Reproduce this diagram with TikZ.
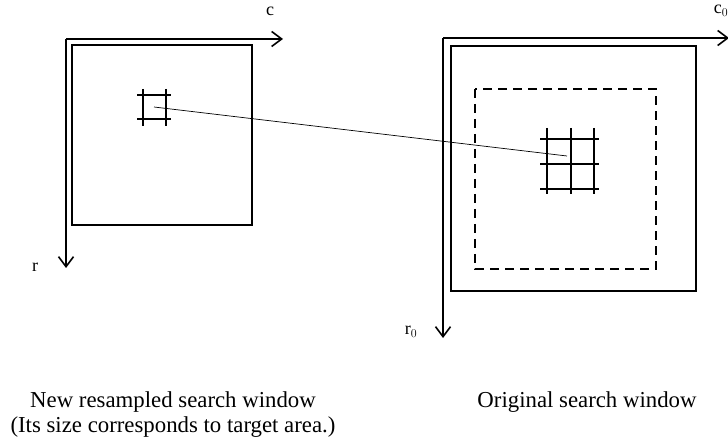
\documentclass[tikz,border=0pt]{standalone}
\usepackage{fontspec}
\setmainfont{Liberation Serif}
\usetikzlibrary{arrows.meta}
\tikzstyle{axis} = [line width=1.6pt, -{Straight Barb[length=10pt,width=15pt,line width=1.6pt]}]
\tikzstyle{window} = [line width=1.6pt]
\tikzstyle{target} = [line width=1.6pt, dash pattern=on 9pt off 6pt]
\tikzstyle{gridline} = [line width=1.6pt]
\tikzstyle{link} = [line width=0.7pt]
\tikzstyle{axlabel} = [font=\fontsize{18}{20}\selectfont, inner sep=0pt]
\tikzstyle{caption} = [font=\fontsize{22.8}{25}\selectfont, align=center, inner sep=0pt, anchor=base]

\begin{document}
\begin{tikzpicture}[x=1pt, y=-1pt]
\useasboundingbox (0,0) rectangle (728,446);

%% ---- NEW RESAMPLED WINDOW ----
\coordinate (ls) at (66, 39);
\draw[axis] (ls) -- (283, 39);
\draw[axis] (ls) -- (66, 268);
\node (lc) [axlabel] at (270, 11) {c};
\node (lr) [axlabel] at (35, 267) {r};
\draw[window] (72, 45) rectangle (252, 225);

% small target cell
\draw[gridline] (143, 89) -- (143, 126);
\draw[gridline] (166, 89) -- (166, 126);
\draw[gridline] (137, 95) -- (171, 95);
\draw[gridline] (137, 119) -- (171, 119);
\coordinate (pl) at (154, 107);

%% ---- ORIGINAL WINDOW ----
\coordinate (rs) at (443, 38);
\draw[axis] (rs) -- (729, 38);
\draw[axis] (rs) -- (443, 338);
\node (rc) [axlabel] at (721, 11) {c$_0$};
\node (rr) [axlabel] at (411, 332) {r$_0$};
\draw[window] (451, 46) rectangle (696, 291);
\draw[target] (475, 89) rectangle (656, 269);

% 3x3 grid of cells
\foreach \gx in {547, 571, 594}
  \draw[gridline] (\gx, 128) -- (\gx, 194);
\foreach \gy in {139, 164, 189}
  \draw[gridline] (540, \gy) -- (599, \gy);
\coordinate (pr) at (567, 156);

%% ---- CORRESPONDENCE ----
\draw[link] (pl) -- (pr);

%% ---- CAPTIONS ----
\node (capl) [caption] at (173, 432)
  {New resampled search window\\(Its size corresponds to target area.)};
\node (capr) [caption] at (587, 407)
  {Original search window};

\end{tikzpicture}
\end{document}
